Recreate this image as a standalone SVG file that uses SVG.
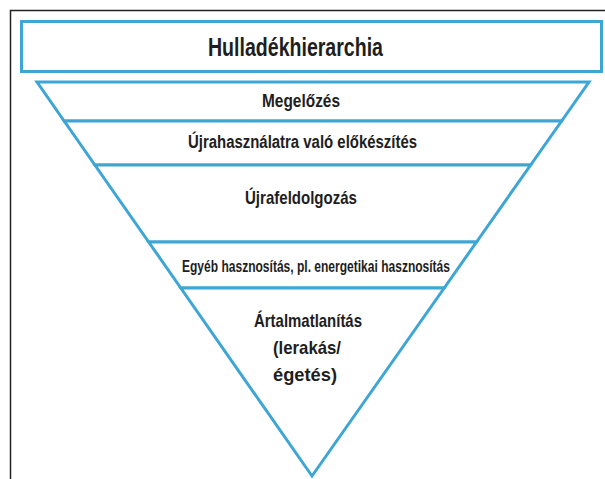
<svg xmlns="http://www.w3.org/2000/svg" width="605" height="479" viewBox="0 0 605 479">
<style>
.band{fill:#ffffff;stroke:#3ea6d4;stroke-width:3;stroke-linejoin:miter}
.t{font-family:"Liberation Sans",Arial,sans-serif;font-weight:bold;fill:#1e1e1e;text-anchor:start}
.frame{stroke:#222;stroke-width:1.5;fill:none}
</style>
<rect x="0" y="0" width="605" height="479" fill="#ffffff"/>
<path class="frame" d="M10.5 479 V10.5 H605"/>
<g id="title">
<rect class="band" x="21.5" y="21.5" width="580" height="50"/>
<text class="t" x="208" y="56" font-size="25" textLength="175" lengthAdjust="spacingAndGlyphs">Hulladékhierarchia</text>
</g>
<g id="megelozes">
<polygon class="band" points="37,82 589,82 561.6,121 64.2,121"/>
<text class="t" x="262" y="107" font-size="19" textLength="78" lengthAdjust="spacingAndGlyphs">Megelőzés</text>
</g>
<g id="ujrahasznalat">
<polygon class="band" points="64.2,121 561.6,121 530.6,165 94.9,165"/>
<text class="t" x="188" y="148" font-size="18" textLength="229" lengthAdjust="spacingAndGlyphs">Újrahasználatra való előkészítés</text>
</g>
<g id="ujrafeldolgozas">
<polygon class="band" points="94.9,165 530.6,165 476.5,242 148.7,242"/>
<text class="t" x="245" y="204" font-size="19" textLength="112" lengthAdjust="spacingAndGlyphs">Újrafeldolgozás</text>
</g>
<g id="egyeb">
<polygon class="band" points="148.7,242 476.5,242 444.2,288 180.8,288"/>
<text class="t" x="182" y="272" font-size="16" textLength="268" lengthAdjust="spacingAndGlyphs">Egyéb hasznosítás, pl. energetikai hasznosítás</text>
</g>
<g id="artalmatlanitas">
<polygon class="band" points="180.8,288 444.2,288 312,476"/>
<text class="t" x="254" y="327" font-size="19" textLength="108" lengthAdjust="spacingAndGlyphs">Ártalmatlanítás</text>
<text class="t" x="273" y="354" font-size="19" textLength="68" lengthAdjust="spacingAndGlyphs">(lerakás/</text>
<text class="t" x="273" y="381" font-size="19" textLength="64" lengthAdjust="spacingAndGlyphs">égetés)</text>
</g>
<g id="connectors"/>
</svg>
